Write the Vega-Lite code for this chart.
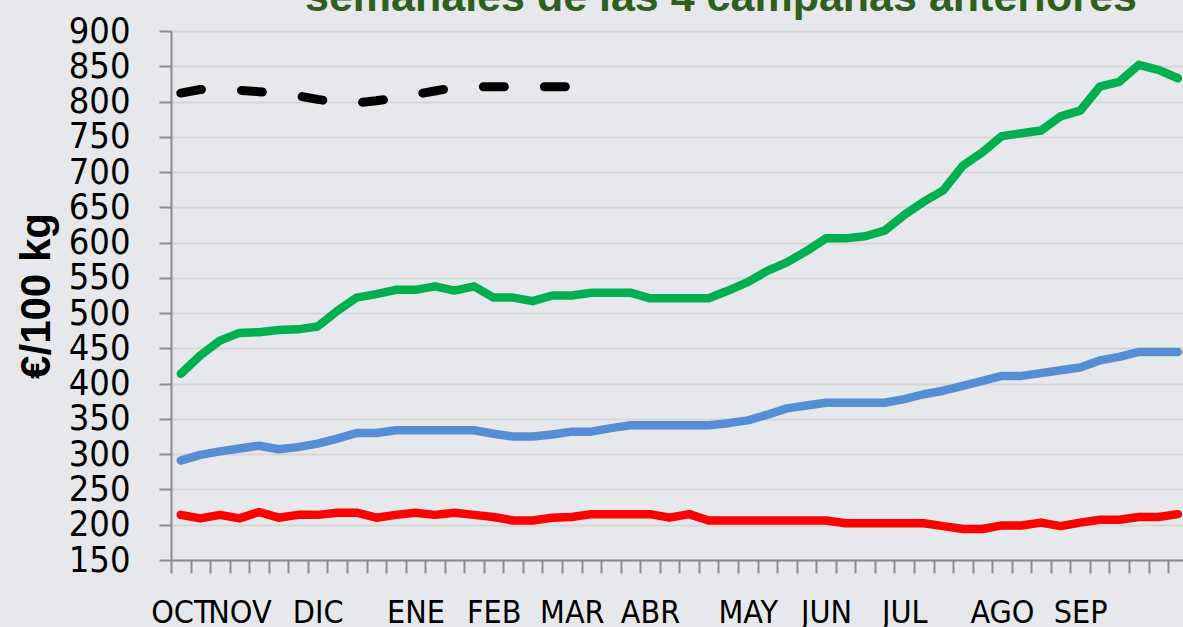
{
  "$schema": "https://vega.github.io/schema/vega-lite/v6.json",
  "width": 1012,
  "height": 529,
  "autosize": {"type": "none"},
  "padding": {"left": 171, "top": 31, "right": 0, "bottom": 67},
  "background": "#E7E8EB",
  "config": {"view": {"stroke": null}, "font": "Liberation Sans"},
  "title": {
    "text": "semanales de las 4 campañas anteriores",
    "anchor": "start",
    "frame": "group",
    "dx": 134,
    "dy": 41,
    "offset": 0,
    "baseline": "alphabetic",
    "font": "Liberation Sans",
    "fontSize": 43,
    "fontWeight": "bold",
    "color": "#2F5F1F"
  },
  "datasets": {
    "precios": [
      {"semana": 1, "serie": "Mínimo", "precio": 214}, {"semana": 2, "serie": "Mínimo", "precio": 209}, {"semana": 3, "serie": "Mínimo", "precio": 214}, {"semana": 4, "serie": "Mínimo", "precio": 209}, {"semana": 5, "serie": "Mínimo", "precio": 218}, {"semana": 6, "serie": "Mínimo", "precio": 210}, {"semana": 7, "serie": "Mínimo", "precio": 214}, {"semana": 8, "serie": "Mínimo", "precio": 214}, {"semana": 9, "serie": "Mínimo", "precio": 217}, {"semana": 10, "serie": "Mínimo", "precio": 217}, {"semana": 11, "serie": "Mínimo", "precio": 210}, {"semana": 12, "serie": "Mínimo", "precio": 214}, {"semana": 13, "serie": "Mínimo", "precio": 217}, {"semana": 14, "serie": "Mínimo", "precio": 214}, {"semana": 15, "serie": "Mínimo", "precio": 217}, {"semana": 16, "serie": "Mínimo", "precio": 214}, {"semana": 17, "serie": "Mínimo", "precio": 211}, {"semana": 18, "serie": "Mínimo", "precio": 206}, {"semana": 19, "serie": "Mínimo", "precio": 206}, {"semana": 20, "serie": "Mínimo", "precio": 210}, {"semana": 21, "serie": "Mínimo", "precio": 211}, {"semana": 22, "serie": "Mínimo", "precio": 215}, {"semana": 23, "serie": "Mínimo", "precio": 215}, {"semana": 24, "serie": "Mínimo", "precio": 215}, {"semana": 25, "serie": "Mínimo", "precio": 215}, {"semana": 26, "serie": "Mínimo", "precio": 210}, {"semana": 27, "serie": "Mínimo", "precio": 215}, {"semana": 28, "serie": "Mínimo", "precio": 206}, {"semana": 29, "serie": "Mínimo", "precio": 206}, {"semana": 30, "serie": "Mínimo", "precio": 206}, {"semana": 31, "serie": "Mínimo", "precio": 206}, {"semana": 32, "serie": "Mínimo", "precio": 206}, {"semana": 33, "serie": "Mínimo", "precio": 206}, {"semana": 34, "serie": "Mínimo", "precio": 206}, {"semana": 35, "serie": "Mínimo", "precio": 202}, {"semana": 36, "serie": "Mínimo", "precio": 202}, {"semana": 37, "serie": "Mínimo", "precio": 202}, {"semana": 38, "serie": "Mínimo", "precio": 202}, {"semana": 39, "serie": "Mínimo", "precio": 202}, {"semana": 40, "serie": "Mínimo", "precio": 198}, {"semana": 41, "serie": "Mínimo", "precio": 194}, {"semana": 42, "serie": "Mínimo", "precio": 194}, {"semana": 43, "serie": "Mínimo", "precio": 199}, {"semana": 44, "serie": "Mínimo", "precio": 199}, {"semana": 45, "serie": "Mínimo", "precio": 203}, {"semana": 46, "serie": "Mínimo", "precio": 198}, {"semana": 47, "serie": "Mínimo", "precio": 203}, {"semana": 48, "serie": "Mínimo", "precio": 207}, {"semana": 49, "serie": "Mínimo", "precio": 207}, {"semana": 50, "serie": "Mínimo", "precio": 211}, {"semana": 51, "serie": "Mínimo", "precio": 211}, {"semana": 52, "serie": "Mínimo", "precio": 215},
      {"semana": 1, "serie": "Media", "precio": 291}, {"semana": 2, "serie": "Media", "precio": 299}, {"semana": 3, "serie": "Media", "precio": 304}, {"semana": 4, "serie": "Media", "precio": 308}, {"semana": 5, "serie": "Media", "precio": 312}, {"semana": 6, "serie": "Media", "precio": 307}, {"semana": 7, "serie": "Media", "precio": 310}, {"semana": 8, "serie": "Media", "precio": 315}, {"semana": 9, "serie": "Media", "precio": 322}, {"semana": 10, "serie": "Media", "precio": 330}, {"semana": 11, "serie": "Media", "precio": 330}, {"semana": 12, "serie": "Media", "precio": 334}, {"semana": 13, "serie": "Media", "precio": 334}, {"semana": 14, "serie": "Media", "precio": 334}, {"semana": 15, "serie": "Media", "precio": 334}, {"semana": 16, "serie": "Media", "precio": 334}, {"semana": 17, "serie": "Media", "precio": 329}, {"semana": 18, "serie": "Media", "precio": 325}, {"semana": 19, "serie": "Media", "precio": 325}, {"semana": 20, "serie": "Media", "precio": 328}, {"semana": 21, "serie": "Media", "precio": 332}, {"semana": 22, "serie": "Media", "precio": 332}, {"semana": 23, "serie": "Media", "precio": 337}, {"semana": 24, "serie": "Media", "precio": 341}, {"semana": 25, "serie": "Media", "precio": 341}, {"semana": 26, "serie": "Media", "precio": 341}, {"semana": 27, "serie": "Media", "precio": 341}, {"semana": 28, "serie": "Media", "precio": 341}, {"semana": 29, "serie": "Media", "precio": 344}, {"semana": 30, "serie": "Media", "precio": 348}, {"semana": 31, "serie": "Media", "precio": 356}, {"semana": 32, "serie": "Media", "precio": 365}, {"semana": 33, "serie": "Media", "precio": 369}, {"semana": 34, "serie": "Media", "precio": 373}, {"semana": 35, "serie": "Media", "precio": 373}, {"semana": 36, "serie": "Media", "precio": 373}, {"semana": 37, "serie": "Media", "precio": 373}, {"semana": 38, "serie": "Media", "precio": 378}, {"semana": 39, "serie": "Media", "precio": 385}, {"semana": 40, "serie": "Media", "precio": 390}, {"semana": 41, "serie": "Media", "precio": 397}, {"semana": 42, "serie": "Media", "precio": 404}, {"semana": 43, "serie": "Media", "precio": 411}, {"semana": 44, "serie": "Media", "precio": 411}, {"semana": 45, "serie": "Media", "precio": 415}, {"semana": 46, "serie": "Media", "precio": 419}, {"semana": 47, "serie": "Media", "precio": 423}, {"semana": 48, "serie": "Media", "precio": 433}, {"semana": 49, "serie": "Media", "precio": 438}, {"semana": 50, "serie": "Media", "precio": 445}, {"semana": 51, "serie": "Media", "precio": 445}, {"semana": 52, "serie": "Media", "precio": 445},
      {"semana": 1, "serie": "Máximo", "precio": 414}, {"semana": 2, "serie": "Máximo", "precio": 440}, {"semana": 3, "serie": "Máximo", "precio": 461}, {"semana": 4, "serie": "Máximo", "precio": 472}, {"semana": 5, "serie": "Máximo", "precio": 473}, {"semana": 6, "serie": "Máximo", "precio": 476}, {"semana": 7, "serie": "Máximo", "precio": 477}, {"semana": 8, "serie": "Máximo", "precio": 481}, {"semana": 9, "serie": "Máximo", "precio": 503}, {"semana": 10, "serie": "Máximo", "precio": 522}, {"semana": 11, "serie": "Máximo", "precio": 527}, {"semana": 12, "serie": "Máximo", "precio": 533}, {"semana": 13, "serie": "Máximo", "precio": 533}, {"semana": 14, "serie": "Máximo", "precio": 538}, {"semana": 15, "serie": "Máximo", "precio": 532}, {"semana": 16, "serie": "Máximo", "precio": 538}, {"semana": 17, "serie": "Máximo", "precio": 522}, {"semana": 18, "serie": "Máximo", "precio": 522}, {"semana": 19, "serie": "Máximo", "precio": 517}, {"semana": 20, "serie": "Máximo", "precio": 525}, {"semana": 21, "serie": "Máximo", "precio": 525}, {"semana": 22, "serie": "Máximo", "precio": 529}, {"semana": 23, "serie": "Máximo", "precio": 529}, {"semana": 24, "serie": "Máximo", "precio": 529}, {"semana": 25, "serie": "Máximo", "precio": 521}, {"semana": 26, "serie": "Máximo", "precio": 521}, {"semana": 27, "serie": "Máximo", "precio": 521}, {"semana": 28, "serie": "Máximo", "precio": 521}, {"semana": 29, "serie": "Máximo", "precio": 532}, {"semana": 30, "serie": "Máximo", "precio": 544}, {"semana": 31, "serie": "Máximo", "precio": 560}, {"semana": 32, "serie": "Máximo", "precio": 572}, {"semana": 33, "serie": "Máximo", "precio": 588}, {"semana": 34, "serie": "Máximo", "precio": 606}, {"semana": 35, "serie": "Máximo", "precio": 606}, {"semana": 36, "serie": "Máximo", "precio": 609}, {"semana": 37, "serie": "Máximo", "precio": 617}, {"semana": 38, "serie": "Máximo", "precio": 639}, {"semana": 39, "serie": "Máximo", "precio": 658}, {"semana": 40, "serie": "Máximo", "precio": 674}, {"semana": 41, "serie": "Máximo", "precio": 709}, {"semana": 42, "serie": "Máximo", "precio": 728}, {"semana": 43, "serie": "Máximo", "precio": 751}, {"semana": 44, "serie": "Máximo", "precio": 755}, {"semana": 45, "serie": "Máximo", "precio": 759}, {"semana": 46, "serie": "Máximo", "precio": 779}, {"semana": 47, "serie": "Máximo", "precio": 787}, {"semana": 48, "serie": "Máximo", "precio": 821}, {"semana": 49, "serie": "Máximo", "precio": 828}, {"semana": 50, "serie": "Máximo", "precio": 852}, {"semana": 51, "serie": "Máximo", "precio": 845}, {"semana": 52, "serie": "Máximo", "precio": 833},
      {"semana": 1, "serie": "Actual", "precio": 812}, {"semana": 2, "serie": "Actual", "precio": 817}, {"semana": 3, "serie": "Actual", "precio": 817}, {"semana": 4, "serie": "Actual", "precio": 816}, {"semana": 5, "serie": "Actual", "precio": 814}, {"semana": 6, "serie": "Actual", "precio": 811}, {"semana": 7, "serie": "Actual", "precio": 808}, {"semana": 8, "serie": "Actual", "precio": 803}, {"semana": 9, "serie": "Actual", "precio": 799}, {"semana": 10, "serie": "Actual", "precio": 798}, {"semana": 11, "serie": "Actual", "precio": 801}, {"semana": 12, "serie": "Actual", "precio": 805}, {"semana": 13, "serie": "Actual", "precio": 810}, {"semana": 14, "serie": "Actual", "precio": 815}, {"semana": 15, "serie": "Actual", "precio": 820}, {"semana": 16, "serie": "Actual", "precio": 821}, {"semana": 17, "serie": "Actual", "precio": 821}, {"semana": 18, "serie": "Actual", "precio": 821}, {"semana": 19, "serie": "Actual", "precio": 821}, {"semana": 20, "serie": "Actual", "precio": 821}, {"semana": 21, "serie": "Actual", "precio": 821}
    ]
  },
  "data": {"name": "precios"},
  "encoding": {
    "x": {
      "field": "semana",
      "type": "quantitative",
      "scale": {"domain": [0.5, 52.26], "nice": false, "zero": false},
      "axis": {
        "title": null,
        "grid": false,
        "values": [0.5, 1.5, 2.5, 3.5, 4.5, 5.5, 6.5, 7.5, 8.5, 9.5, 10.5, 11.5, 12.5, 13.5, 14.5, 15.5, 16.5, 17.5, 18.5, 19.5, 20.5, 21.5, 22.5, 23.5, 24.5, 25.5, 26.5, 27.5, 28.5, 29.5, 30.5, 31.5, 32.5, 33.5, 34.5, 35.5, 36.5, 37.5, 38.5, 39.5, 40.5, 41.5, 42.5, 43.5, 44.5, 45.5, 46.5, 47.5, 48.5, 49.5, 50.5, 51.5],
        "labelExpr": "datum.value == 0.5 ? 'OCT' : datum.value == 3.5 ? 'NOV' : datum.value == 7.5 ? 'DIC' : datum.value == 12.5 ? 'ENE' : datum.value == 16.5 ? 'FEB' : datum.value == 20.5 ? 'MAR' : datum.value == 24.5 ? 'ABR' : datum.value == 29.5 ? 'MAY' : datum.value == 33.5 ? 'JUN' : datum.value == 37.5 ? 'JUL' : datum.value == 42.5 ? 'AGO' : datum.value == 46.5 ? 'SEP' : ''",
        "labelOffset": 9.8,
        "labelFont": "DejaVu Sans Condensed, sans-serif",
        "labelFontSize": 32,
        "labelColor": "#000000",
        "labelPadding": 24,
        "labelFlush": false,
        "labelOverlap": false,
        "labelBound": false,
        "tickSize": 13,
        "tickColor": "#8C8C8C",
        "tickWidth": 2,
        "domainColor": "#8C8C8C",
        "domainWidth": 2
      }
    },
    "y": {
      "field": "precio",
      "type": "quantitative",
      "scale": {"domain": [150, 900], "nice": false, "zero": false},
      "axis": {
        "title": "€/100 kg",
        "titleFont": "Liberation Sans",
        "titleFontWeight": "bold",
        "titleFontSize": 42,
        "titleColor": "#000000",
        "titlePadding": 10,
        "values": [150, 200, 250, 300, 350, 400, 450, 500, 550, 600, 650, 700, 750, 800, 850, 900],
        "labelFont": "DejaVu Sans Condensed, sans-serif",
        "labelFontSize": 36,
        "labelColor": "#000000",
        "labelPadding": 29,
        "labelFlush": false,
        "labelOverlap": false,
        "tickSize": 12,
        "tickColor": "#8C8C8C",
        "tickWidth": 2,
        "domainColor": "#8C8C8C",
        "domainWidth": 2,
        "grid": true,
        "gridColor": "#D6D6D6",
        "gridWidth": 2
      }
    }
  },
  "layer": [
    {
      "transform": [{"filter": "datum.serie != 'Actual'"}],
      "mark": {"type": "line", "strokeWidth": 8.5, "strokeCap": "round", "strokeJoin": "round"},
      "encoding": {
        "color": {
          "field": "serie",
          "type": "nominal",
          "scale": {"domain": ["Mínimo", "Media", "Máximo"], "range": ["#FF0000", "#558ED5", "#00B050"]},
          "legend": null
        }
      }
    },
    {
      "transform": [{"filter": "datum.serie == 'Actual'"}],
      "mark": {"type": "line", "strokeWidth": 9, "strokeCap": "round", "strokeJoin": "round", "strokeDash": [21, 40], "color": "#000000"},
      "encoding": {}
    }
  ]
}
